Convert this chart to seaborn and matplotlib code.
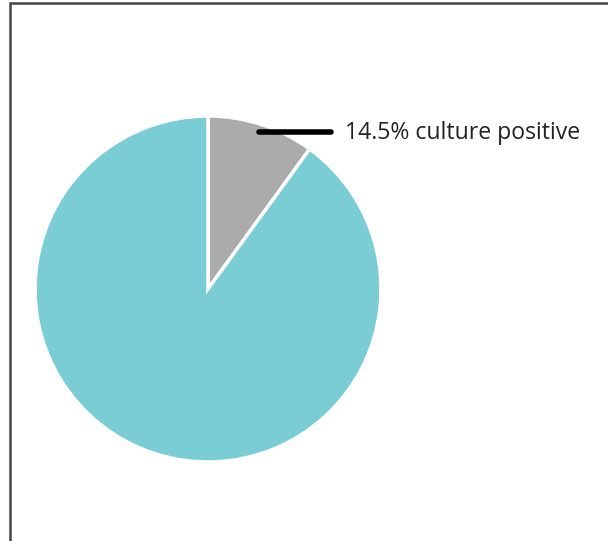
import matplotlib
matplotlib.use("Agg")
import matplotlib.pyplot as plt
import seaborn as sns
from matplotlib.patches import Rectangle

categories = ["Culture positive", "Culture negative"]
values = [10, 90]
label_text = "14.5% culture positive"
colors = ["#ababab", "#7acdd5"]

sns.set_theme(style="white")
plt.rcParams['font.family'] = ['Open Sans', 'DejaVu Sans']

W, H = 608, 541
fig = plt.figure(figsize=(W / 100, H / 100), dpi=100)
ax = fig.add_axes([0, 0, 1, 1])
ax.set_xlim(0, W)
ax.set_ylim(0, H)
ax.axis("off")

ax.pie(values, colors=colors, startangle=90, counterclock=False,
       center=(208, H - 289), radius=173,
       wedgeprops=dict(edgecolor="white", linewidth=2.5))
ax.set_xlim(0, W)
ax.set_ylim(0, H)
ax.set_aspect("equal")

ax.plot([259, 331], [H - 132, H - 132], color="black", lw=4, solid_capstyle="round")
ax.text(345, H - 133, label_text, ha="left", va="center", fontsize=16.6, color="#222222")

ax.add_patch(Rectangle((10, -10), W + 20, H - 3 + 10, fill=False,
                       edgecolor="#444444", lw=1.8, clip_on=False))

fig.savefig("out.png", dpi=100)
